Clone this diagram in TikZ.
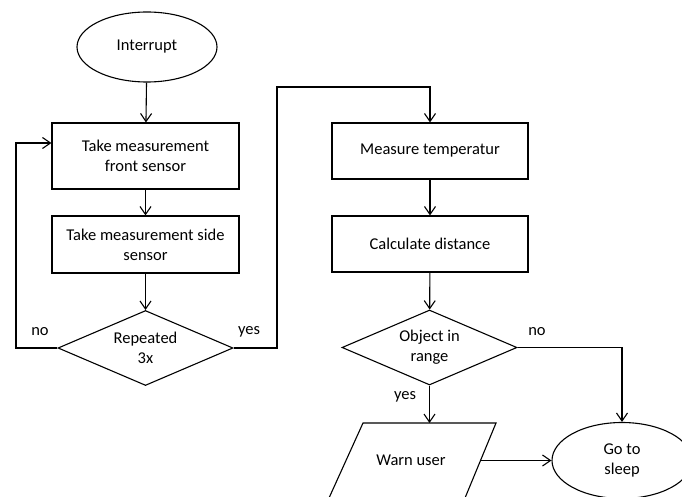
\documentclass[tikz,border=0pt]{standalone}
\usepackage{fontspec}
\setmainfont{Carlito}
\usetikzlibrary{shapes.geometric,arrows.meta}
\begin{document}
\begin{tikzpicture}[x=1pt,y=-1pt,
  every node/.style={font=\fontsize{16.5}{20}\selectfont, align=center, inner sep=0pt},
  line/.style={line width=1.1pt},
  arr/.style={line width=1.1pt, -{Straight Barb[length=8pt,width=11pt,line width=1.1pt]}},
  procbox/.style={draw, line width=1.1pt, minimum width=187pt},
  procbox2/.style={draw, line width=1.1pt, minimum width=196pt, minimum height=56pt},
  decision/.style={draw, line width=1.1pt, diamond, aspect=2.33, minimum width=175pt, minimum height=75pt},
  terminal/.style={draw, line width=1.1pt, ellipse, minimum width=140pt},
  lbl/.style={}]
\useasboundingbox (0,0) rectangle (682,497);
\clip (0,0) rectangle (682,497);
\fill[white] (0,0) rectangle (682,497);

\node[terminal, minimum height=70pt] (int) at (147,47) {Interrupt};
\node[procbox, minimum height=66pt] (b1) at (145.5,156) {Take measurement\\front sensor};
\node[procbox, minimum height=57pt] (b2) at (145.5,244.5) {Take measurement side\\sensor};
\node[decision] (d1) at (145.5,348) {Repeated\\3x};

\node[procbox2] (b3) at (430,151) {Measure temperatur};
\node[procbox2] (b4) at (430,244) {Calculate distance};
\node[decision] (d2) at (429.5,347.5) {Object in\\range};

% parallelogram (input/output)
\coordinate (pa) at (363,423);
\coordinate (pb) at (496,423);
\coordinate (pc) at (465,498);
\coordinate (pd) at (329,498);
\draw[line] (pa) -- (pb) -- (pc) -- (pd) -- cycle;
\node (warn) at (411,460) {Warn user};
\coordinate (warnR) at (480.5,460.5);
\coordinate (warnT) at (429.5,423);

\node[terminal, minimum height=76pt] (sleep) at (622,460.5) {Go to\\sleep};

\node[lbl] (lno1) at (40,332) {no};
\node[lbl] (lyes1) at (249,332) {yes};
\node[lbl] (lno2) at (537,332) {no};
\node[lbl] (lyes2) at (405,397) {yes};

\coordinate (loopL) at (16,348);
\coordinate (loopR) at (277,87);

\draw[arr] (int) -- (b1);
\draw[arr] (b1) -- (b2);
\draw[arr] (b2) -- (d1);
\draw[arr] (d1.west) -- (loopL) |- ([yshift=13pt]b1.west);
\draw[arr] (d1.east) -| (loopR) -| (b3.north);
\draw[arr] (b3) -- (b4);
\draw[arr] (b4) -- (d2);
\draw[arr] (d2.south) -- (warnT);
\draw[arr] (d2.east) -| (sleep.north);
\draw[arr] (warnR) -- (sleep.west);
\end{tikzpicture}
\end{document}
